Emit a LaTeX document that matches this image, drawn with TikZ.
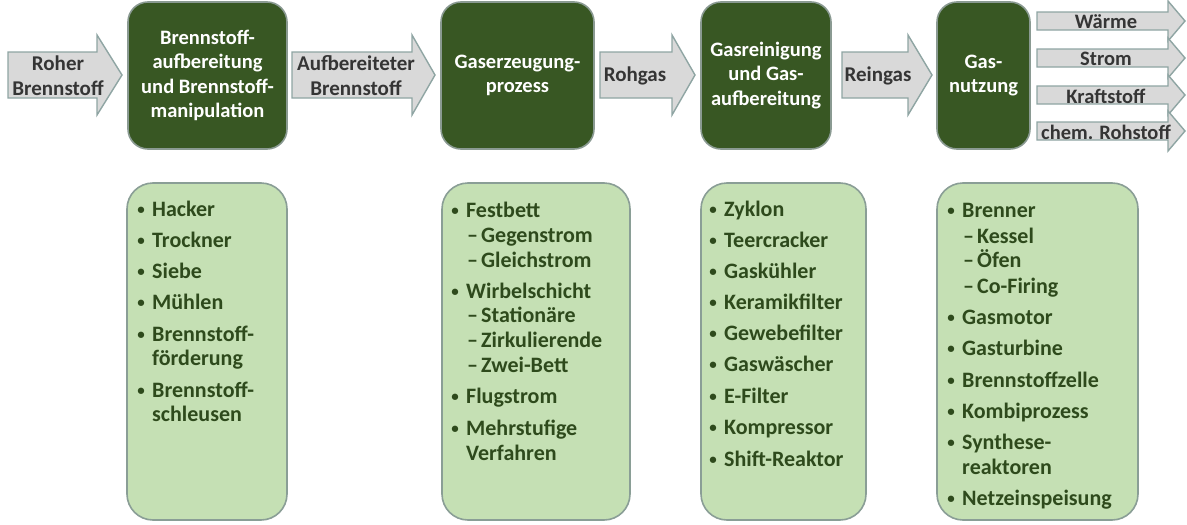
\documentclass[tikz,border=0pt]{standalone}
\usepackage{fontspec}
\setmainfont{Carlito}
\definecolor{darkgreen}{HTML}{385723}
\definecolor{darkborder}{HTML}{8A9A92}
\definecolor{lightfill}{HTML}{C5E0B4}
\definecolor{lightborder}{HTML}{8A9E96}
\definecolor{txtgreen}{HTML}{2E4A1C}
\definecolor{arrowfill}{HTML}{D9D9D9}
\definecolor{arrowborder}{HTML}{8FA5A3}
\definecolor{arrowtext}{HTML}{353535}
\tikzset{
  darkbox/.style={draw=darkborder, line width=1.6pt, fill=darkgreen, rounded corners=20pt, inner sep=0pt},
  lightbox/.style={draw=lightborder, line width=1.6pt, fill=lightfill, rounded corners=26pt, inner sep=0pt},
  boxtext/.style={text=white, align=center, inner sep=0pt, font=\fontsize{20.5}{24.5}\selectfont\bfseries},
  arrowshape/.style={draw=arrowborder, line width=1.4pt, fill=arrowfill, line join=miter},
  arrowlabel/.style={text=arrowtext, align=center, inner sep=0pt, font=\fontsize{21}{25}\selectfont\bfseries},
  outlabel/.style={text=arrowtext, align=center, inner sep=0pt, font=\fontsize{20.5}{22}\selectfont\bfseries},
  lst/.style={anchor=base west, inner sep=0pt, text=txtgreen, font=\fontsize{22}{25}\selectfont\bfseries},
  bul/.style={anchor=base, inner sep=0pt, text=txtgreen, font=\fontsize{15}{18}\selectfont\bfseries},
}
% block arrow: x-left, x-head, x-tip, y-mid, body half height, head half height
\newcommand\blockarrow[6]{%
  \path[arrowshape] (#1,#4-#5) -- (#2,#4-#5) -- (#2,#4-#6) -- (#3,#4) -- (#2,#4+#6) -- (#2,#4+#5) -- (#1,#4+#5) -- cycle;}
\newcommand\bitem[4]{\node[bul] (#1b) at (#2-11,#3-2) {•}; \node[lst] (#1) at (#2,#3) {#4};}
\newcommand\ditem[4]{\node[lst] (#1d) at (#2-14,#3) {–}; \node[lst] (#1) at (#2,#3) {#4};}
\newcommand\citem[4]{\node[lst] (#1) at (#2,#3) {#4};}
\begin{document}
\begin{tikzpicture}[x=1pt,y=-1pt]
\useasboundingbox (0,0) rectangle (1187,525);
\fill[white] (0,0) rectangle (1187,525);

% input / intermediate arrows
\blockarrow{8}{97}{122}{75}{23}{40}
\node[arrowlabel] (a1) at (58,76) {Roher\\Brennstoff};
\blockarrow{292}{412}{435}{75}{23}{40}
\node[arrowlabel] (a2) at (356,76) {Aufbereiteter\\Brennstoff};
\blockarrow{600}{672}{695}{75}{23}{40}
\node[arrowlabel] (a3) at (635,76) {Rohgas};
\blockarrow{842}{908}{932}{75}{23}{40}
\node[arrowlabel] (a4) at (878,76) {Reingas};

% top process boxes
\node[darkbox, minimum width=159pt, minimum height=147pt] (p1) at (207.5,75.5) {};
\node[boxtext] (p1t) at (p1) {Brennstoff-\\aufbereitung\\und Brennstoff-\\manipulation};
\node[darkbox, minimum width=153pt, minimum height=147pt] (p2) at (517.5,75.5) {};
\node[boxtext] (p2t) at (p2) {Gaserzeugung-\\prozess};
\node[darkbox, minimum width=130pt, minimum height=147pt] (p3) at (766,75.5) {};
\node[boxtext] (p3t) at (p3) {Gasreinigung\\und Gas-\\aufbereitung};
\node[darkbox, minimum width=93pt, minimum height=147pt] (p4) at (983.5,75.5) {};
\node[boxtext] (p4t) at (p4) {Gas-\\nutzung};

% output arrows
\blockarrow{1037}{1168}{1185}{21}{9}{20}
\node[outlabel] (o1) at (1106,22) {Wärme};
\blockarrow{1037}{1168}{1185}{58}{9}{20}
\node[outlabel] (o2) at (1106,59) {Strom};
\blockarrow{1037}{1168}{1185}{95}{9}{20}
\node[outlabel] (o3) at (1106,96) {Kraftstoff};
\blockarrow{1037}{1168}{1185}{131}{9}{20}
\node[outlabel] (o4) at (1106,132) {chem. Rohstoff};

% bottom list boxes
\node[lightbox, minimum width=160pt, minimum height=337pt] (l1) at (207,351.5) {};
\node[lightbox, minimum width=188pt, minimum height=337pt] (l2) at (536,351.5) {};
\node[lightbox, minimum width=165pt, minimum height=337pt] (l3) at (783.5,351.5) {};
\node[lightbox, minimum width=201pt, minimum height=337pt] (l4) at (1037.5,351.5) {};

% list 1
\bitem{x11}{152}{216}{Hacker}
\bitem{x12}{152}{247}{Trockner}
\bitem{x13}{152}{278}{Siebe}
\bitem{x14}{152}{309}{Mühlen}
\bitem{x15}{152}{341}{Brennstoff-}
\citem{x16}{152}{365}{förderung}
\bitem{x17}{152}{397}{Brennstoff-}
\citem{x18}{152}{421}{schleusen}

% list 2
\bitem{x21}{466}{217}{Festbett}
\ditem{x22}{481}{242}{Gegenstrom}
\ditem{x23}{481}{267}{Gleichstrom}
\bitem{x24}{466}{298}{Wirbelschicht}
\ditem{x25}{481}{322}{Stationäre}
\ditem{x26}{481}{347}{Zirkulierende}
\ditem{x27}{481}{372}{Zwei-Bett}
\bitem{x28}{466}{403}{Flugstrom}
\bitem{x29}{466}{435}{Mehrstufige}
\citem{x2a}{466}{460}{Verfahren}

% list 3
\bitem{x31}{724}{216}{Zyklon}
\bitem{x32}{724}{247}{Teercracker}
\bitem{x33}{724}{278}{Gaskühler}
\bitem{x34}{724}{309}{Keramikfilter}
\bitem{x35}{724}{340}{Gewebefilter}
\bitem{x36}{724}{371}{Gaswäscher}
\bitem{x37}{724}{403}{E-Filter}
\bitem{x38}{724}{434}{Kompressor}
\bitem{x39}{724}{466}{Shift-Reaktor}

% list 4
\bitem{x41}{962}{217}{Brenner}
\ditem{x42}{977}{243}{Kessel}
\ditem{x43}{977}{267}{Öfen}
\ditem{x44}{977}{293}{Co-Firing}
\bitem{x45}{962}{324}{Gasmotor}
\bitem{x46}{962}{355}{Gasturbine}
\bitem{x47}{962}{387}{Brennstoffzelle}
\bitem{x48}{962}{418}{Kombiprozess}
\bitem{x49}{962}{449}{Synthese-}
\citem{x4a}{962}{474}{reaktoren}
\bitem{x4b}{962}{505}{Netzeinspeisung}
\end{tikzpicture}
\end{document}
